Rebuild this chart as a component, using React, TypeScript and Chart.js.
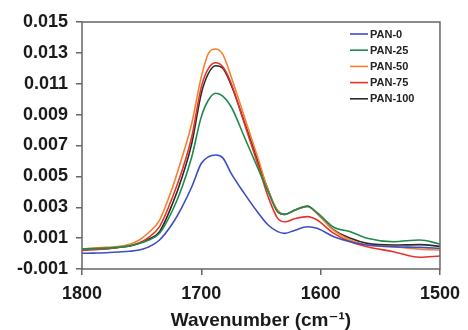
import React, { useEffect, useRef } from "react";
import { Chart, registerables } from "chart.js";

Chart.register(...registerables);

const wavenumbers = [1800, 1790, 1780, 1770, 1760, 1752, 1745, 1735, 1724, 1716, 1708, 1700, 1694, 1688, 1682, 1675, 1664, 1652, 1644, 1636, 1630, 1622, 1611, 1603, 1589, 1575, 1561, 1539, 1517, 1500];

const pan0 = [0.00002, 0.00003, 0.00005, 0.0001, 0.00015, 0.00023, 0.0004, 0.00088, 0.00196, 0.00304, 0.00433, 0.00585, 0.00627, 0.00638, 0.0062, 0.0052, 0.0039, 0.0026, 0.00185, 0.00142, 0.00131, 0.0015, 0.00174, 0.00164, 0.00109, 0.00077, 0.00055, 0.00044, 0.0004, 0.00034];
const pan25 = [0.0003, 0.00032, 0.00035, 0.0004, 0.0005, 0.00065, 0.00085, 0.00131, 0.00282, 0.00433, 0.00627, 0.00887, 0.00995, 0.01038, 0.0102, 0.00951, 0.00757, 0.00541, 0.00401, 0.00271, 0.00254, 0.0028, 0.00305, 0.00265, 0.0017, 0.00142, 0.00099, 0.00077, 0.00088, 0.00062];
const pan50 = [0.0003, 0.00035, 0.0004, 0.00045, 0.0006, 0.00088, 0.0013, 0.00217, 0.00433, 0.00627, 0.00844, 0.01146, 0.01297, 0.01325, 0.0129, 0.01146, 0.00887, 0.00606, 0.0041, 0.0028, 0.00254, 0.0028, 0.00305, 0.0026, 0.0015, 0.00088, 0.00055, 0.00044, 0.00028, 0.00023];
const pan75 = [0.0002, 0.00025, 0.0003, 0.0004, 0.0005, 0.00068, 0.001, 0.00174, 0.00368, 0.00541, 0.00757, 0.0108, 0.012, 0.01236, 0.0121, 0.01103, 0.00844, 0.00563, 0.00368, 0.00228, 0.00206, 0.00225, 0.00239, 0.00217, 0.00131, 0.00077, 0.00044, 0.00012, -0.00024, -0.00016];
const pan100 = [0.00028, 0.0003, 0.00032, 0.0004, 0.0005, 0.00068, 0.0009, 0.00142, 0.00326, 0.00498, 0.00714, 0.01038, 0.01168, 0.01217, 0.012, 0.01092, 0.00854, 0.00585, 0.00412, 0.00271, 0.00254, 0.0028, 0.00308, 0.0026, 0.00153, 0.00099, 0.00066, 0.00055, 0.00058, 0.00047];

const seriesLabels = ["PAN-0", "PAN-25", "PAN-50", "PAN-75", "PAN-100"];
const seriesValues = [pan0, pan25, pan50, pan75, pan100];
const seriesColors = ["#3c4fbf", "#1f8a4c", "#f5822f", "#e8332a", "#2a2a2a"];

const xTicks = [1800, 1700, 1600, 1500];
const yMin = -0.001;
const yMax = 0.015;
const yStep = 0.002;

const TICK_FONT = { family: "'Liberation Sans', Arial, sans-serif", size: 18, weight: "bold" as const };

const boxAndLegend = {
  id: "boxAndLegend",
  afterDatasetsDraw(chart: any) {
    const { ctx, chartArea } = chart;
    ctx.save();
    ctx.strokeStyle = "#666";
    ctx.lineWidth = 1.5;
    ctx.strokeRect(chartArea.left, chartArea.top, chartArea.right - chartArea.left, chartArea.bottom - chartArea.top);
    const x0 = chartArea.right - 90;
    const y0 = chartArea.top + 12;
    ctx.font = "bold 11px 'Liberation Sans', Arial, sans-serif";
    ctx.textBaseline = "middle";
    ctx.textAlign = "left";
    chart.data.datasets.forEach((ds: any, i: number) => {
      const y = y0 + i * 16.2;
      ctx.strokeStyle = ds.borderColor;
      ctx.lineWidth = 1.6;
      ctx.beginPath();
      ctx.moveTo(x0, y);
      ctx.lineTo(x0 + 18, y);
      ctx.stroke();
      ctx.fillStyle = "#222";
      ctx.fillText(ds.label, x0 + 20, y + 0.5);
    });
    ctx.restore();
  },
};

export default function App() {
  const ref = useRef<HTMLCanvasElement | null>(null);
  useEffect(() => {
    if (!ref.current) return;
    const chart = new Chart(ref.current, {
      type: "line",
      data: {
        datasets: seriesLabels.map((label, i) => ({
          label,
          data: wavenumbers.map((w, j) => ({ x: w, y: seriesValues[i][j] })),
          borderColor: seriesColors[i],
          backgroundColor: seriesColors[i],
          borderWidth: 1.6,
          pointRadius: 0,
          cubicInterpolationMode: "monotone" as const,
          fill: false,
        })),
      },
      options: {
        animation: false,
        responsive: false,
        devicePixelRatio: 1,
        layout: { padding: { top: 22, right: 24, left: 0, bottom: 0 } },
        plugins: { legend: { display: false }, tooltip: { enabled: false } },
        scales: {
          x: {
            type: "linear",
            reverse: true,
            min: 1500,
            max: 1800,
            afterFit: (s: any) => { s.height = 61; },
            afterBuildTicks: (s: any) => { s.ticks = xTicks.map((v) => ({ value: v })); },
            border: { display: false },
            grid: { display: true, drawOnChartArea: false, drawTicks: true, tickLength: 6, color: "#666", lineWidth: 1.5 },
            ticks: { color: "#1a1a1a", font: TICK_FONT, padding: 8, maxRotation: 0, callback: (v: any) => String(v) },
            title: {
              display: true,
              text: "Wavenumber (cm⁻¹)",
              color: "#1a1a1a",
              font: { family: "'Liberation Sans', 'DejaVu Sans', Arial, sans-serif", size: 19, weight: "bold" },
              padding: { top: 0, bottom: -2 },
            },
          },
          y: {
            type: "linear",
            min: yMin,
            max: yMax,
            afterFit: (s: any) => { s.width = 82; },
            border: { display: false },
            grid: { display: true, drawOnChartArea: false, drawTicks: true, tickLength: 6, color: "#666", lineWidth: 1.5 },
            ticks: {
              stepSize: yStep,
              color: "#1a1a1a",
              font: TICK_FONT,
              padding: 8,
              callback: (v: any) => Number(v).toFixed(3),
            },
          },
        },
      },
      plugins: [boxAndLegend],
    });
    return () => chart.destroy();
  }, []);
  return (
    <div style={{ position: "absolute", left: 0, top: 0, width: 468, height: 330, background: "#fff" }}>
      <canvas ref={ref} width={468} height={330} />
    </div>
  );
}
